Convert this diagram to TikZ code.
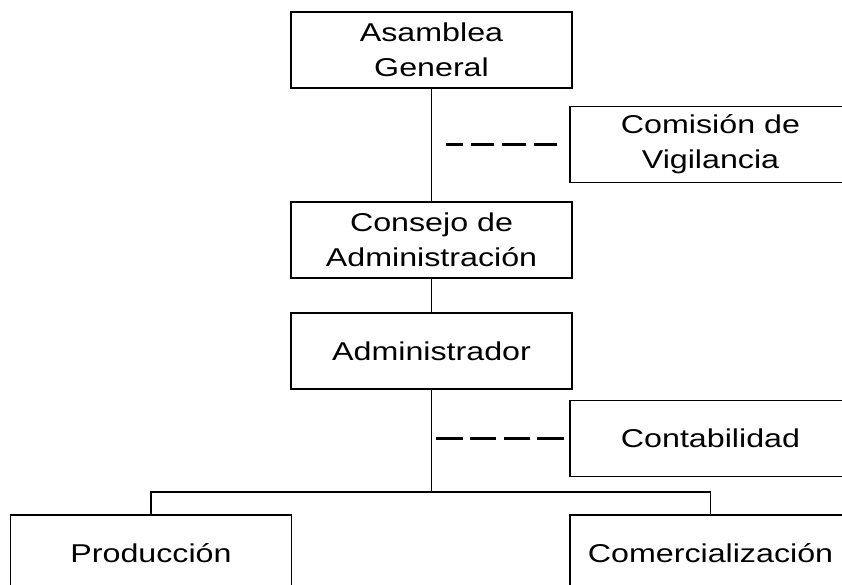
\documentclass[tikz,border=0pt]{standalone}
\usepackage{fontspec}
\setmainfont{Liberation Sans}[FakeStretch=1.25]
\usepackage{tikz}

\begin{document}
\begin{tikzpicture}[x=0.03cm, y=-0.03cm,
  every node/.style={rectangle, draw=black, line width=1.5pt, minimum width=8.43cm, minimum height=2.28cm, align=center, font=\fontsize{22}{30}\selectfont},
  link/.style={line width=1.5pt},
  staff/.style={line width=1.8pt, dash pattern=on 20pt off 7pt}]
\useasboundingbox (0,0) rectangle (842,584);
\clip (0,0) rectangle (842,584);

% Organos de direccion
\node (AG) at (431.5,50) {Asamblea\\General};
\node (CA) at (431.5,240) {Consejo de\\Administraci\'on};
\node (AD) at (431.5,351) {Administrador};

% Organos de apoyo
\node (CV) at (710.5,144.5) {Comisi\'on de\\Vigilancia};
\node (CO) at (710.5,438.5) {Contabilidad};

% Areas
\node (PR) at (151,553) {Producci\'on};
\node (CM) at (710.5,553) {Comercializaci\'on};
\coordinate (split) at (431.5,492);

% Lineas de mando
\draw[link] (AG) -- (CA);
\draw[link] (CA) -- (AD);
\draw[link] (AD) -- (split);
\draw[link] (PR.north) |- (split) -| (CM.north);

% Lineas de asesoria
\draw[staff, shorten <=10pt, shorten >=12pt] (CV.west) -- (CV.west -| AG.south);
\draw[staff, dash pattern=on 23pt off 6pt, shorten <=4pt, shorten >=4pt] (CO.west) -- (CO.west -| AD.south);

\end{tikzpicture}
\end{document}
